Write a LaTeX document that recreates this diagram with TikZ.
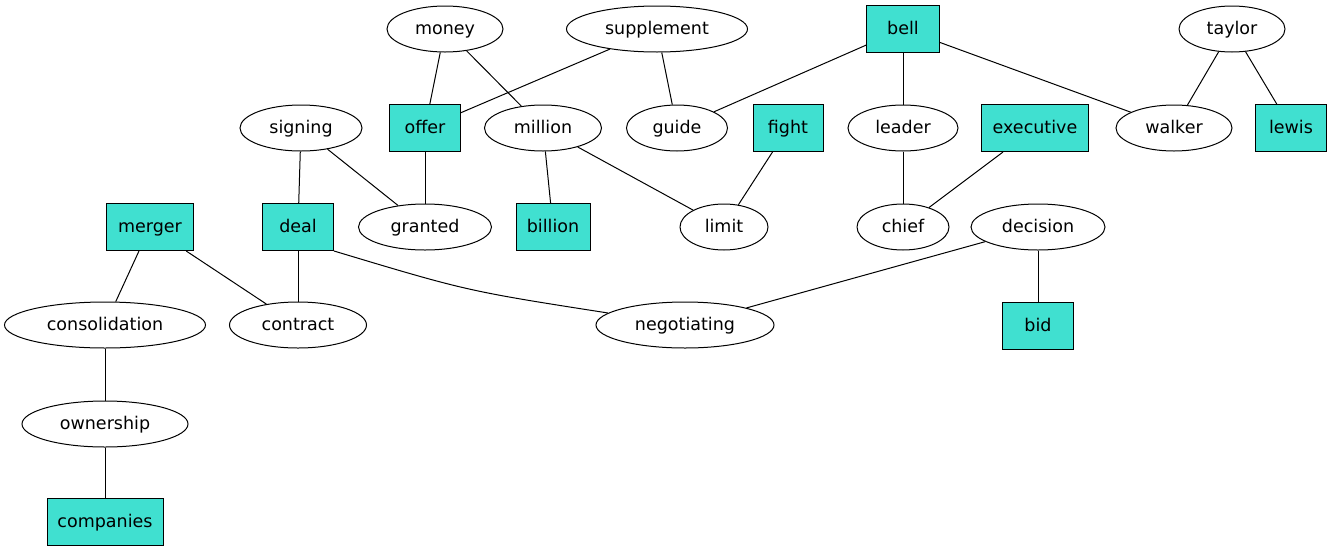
\documentclass[tikz,border=0pt]{standalone}
\usepackage{fontspec}
\setmainfont{DejaVu Sans}
\usepackage{tikz}
\usetikzlibrary{shapes.geometric}
\definecolor{turq}{RGB}{64,224,208}

\begin{document}
\begin{tikzpicture}[
    x=1pt, y=-1pt,
    word/.style={draw, line width=1pt, ellipse, inner sep=0pt, minimum height=46pt, text height=14pt, text depth=3pt, font=\fontsize{17.5}{20}\selectfont},
    key/.style={draw, line width=1pt, fill=turq, inner sep=0pt, minimum height=47pt, text height=14pt, text depth=3pt, font=\fontsize{17.5}{20}\selectfont},
    link/.style={line width=1pt}
]
\useasboundingbox (0,0) rectangle (1333,552);

% top row
\node[word, minimum width=116pt] (money) at (445,29) {money};
\node[word, minimum width=181pt] (supplement) at (657,29) {supplement};
\node[key, minimum width=73pt] (bell) at (903,29) {bell};
\node[word, minimum width=106pt] (taylor) at (1232,29) {taylor};

% second row
\node[word, minimum width=122pt] (signing) at (301,128) {signing};
\node[key, minimum width=71pt] (offer) at (425,128) {offer};
\node[word, minimum width=117pt] (million) at (543,128) {million};
\node[word, minimum width=101pt] (guide) at (677,128) {guide};
\node[key, minimum width=70pt] (fight) at (788,128) {fight};
\node[word, minimum width=110pt] (leader) at (903,128) {leader};
\node[key, minimum width=107pt] (executive) at (1035,128) {executive};
\node[word, minimum width=116pt] (walker) at (1174,128) {walker};
\node[key, minimum width=71pt] (lewis) at (1291,128) {lewis};

% third row
\node[key, minimum width=87pt] (merger) at (150,227) {merger};
\node[key, minimum width=71pt] (deal) at (298,227) {deal};
\node[word, minimum width=133pt] (granted) at (425,227) {granted};
\node[key, minimum width=74pt] (billion) at (553,227) {billion};
\node[word, minimum width=88pt] (limit) at (724,227) {limit};
\node[word, minimum width=92pt] (chief) at (903,227) {chief};
\node[word, minimum width=134pt] (decision) at (1038,227) {decision};

% fourth row and below
\node[word, minimum width=201pt] (consolidation) at (105,325) {consolidation};
\node[word, minimum width=137pt] (contract) at (298,325) {contract};
\node[word, minimum width=178pt] (negotiating) at (685,325) {negotiating};
\node[key, minimum width=71pt] (bid) at (1038,326) {bid};
\node[word, minimum width=166pt] (ownership) at (105,424) {ownership};
\node[key, minimum width=116pt] (companies) at (105,522) {companies};

\draw[link] (money) -- (offer);
\draw[link] (money) -- (million);
\draw[link] (supplement) -- (offer);
\draw[link] (supplement) -- (guide);
\draw[link] (bell) -- (guide);
\draw[link] (bell) -- (leader);
\draw[link] (bell) -- (walker);
\draw[link] (taylor) -- (walker);
\draw[link] (taylor) -- (lewis);
\draw[link] (signing) -- (deal);
\draw[link] (signing) -- (granted);
\draw[link] (offer) -- (granted);
\draw[link] (million) -- (billion);
\draw[link] (million) -- (limit);
\draw[link] (fight) -- (limit);
\draw[link] (leader) -- (chief);
\draw[link] (executive) -- (chief);
\draw[link] (merger) -- (consolidation);
\draw[link] (merger) -- (contract);
\draw[link] (deal) -- (contract);
\draw[link] (deal.south east) .. controls (467,291) .. (negotiating);
\draw[link] (decision) -- (negotiating);
\draw[link] (decision) -- (bid);
\draw[link] (consolidation) -- (ownership);
\draw[link] (ownership) -- (companies);
\end{tikzpicture}
\end{document}
